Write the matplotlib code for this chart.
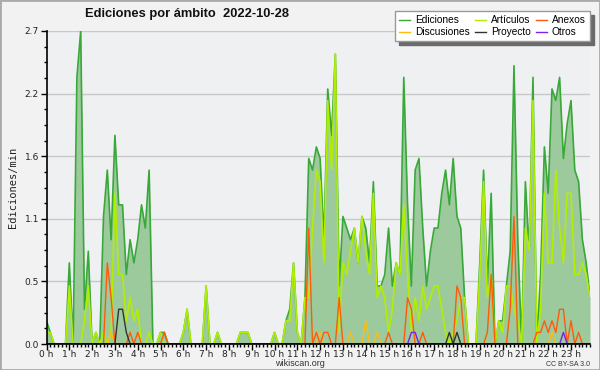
import numpy as np
import matplotlib
matplotlib.use("Agg")
import matplotlib.pyplot as plt
from matplotlib.ticker import MultipleLocator, AutoMinorLocator, FixedLocator
from matplotlib.patches import Rectangle

# one value every 10 minutes (edits/min), 144 values for the day
ediciones = [
    0.2, 0.1, 0, 0, 0, 0, 0.7, 0, 2.3, 2.7, 0.3, 0.8,
    0, 0.1, 0, 1.1, 1.5, 0.9, 1.8, 1.2, 1.2, 0.6, 0.9, 0.7,
    0.9, 1.2, 1.0, 1.5, 0, 0, 0.1, 0.1, 0, 0, 0, 0,
    0.1, 0.3, 0, 0, 0, 0, 0.5, 0, 0, 0.1, 0, 0,
    0, 0, 0, 0.1, 0.1, 0.1, 0, 0, 0, 0, 0, 0,
    0.1, 0, 0, 0.2, 0.3, 0.7, 0.1, 0, 0.4, 1.6, 1.5, 1.7,
    1.6, 0.9, 2.2, 1.8, 2.5, 0.5, 1.1, 1.0, 0.9, 1.0, 0.7, 1.1,
    1.0, 0.7, 1.4, 0.5, 0.5, 0.6, 1.0, 0.5, 0.7, 0.6, 2.3, 1.2,
    0.5, 1.5, 1.6, 1.0, 0.5, 0.8, 1.0, 1.0, 1.3, 1.5, 1.2, 1.6,
    1.1, 1.0, 0.4, 0, 0, 0, 0.7, 1.5, 0.5, 1.3, 0, 0.2,
    0.2, 0.5, 0.8, 2.4, 0.9, 0, 1.4, 0.8, 2.3, 0, 0.6, 1.7,
    1.3, 2.2, 2.1, 2.3, 1.6, 1.9, 2.1, 1.5, 1.4, 0.9, 0.7, 0.4,
]
articulos = [
    0.1, 0.1, 0, 0, 0, 0, 0.5, 0, 0, 0, 0.2, 0.5,
    0, 0.1, 0, 0.1, 0, 0.1, 1.3, 0.6, 0.6, 0.2, 0.4, 0.2,
    0.3, 0, 0, 0.1, 0, 0, 0.1, 0, 0, 0, 0, 0,
    0.1, 0.3, 0, 0, 0, 0, 0.5, 0, 0, 0.1, 0, 0,
    0, 0, 0, 0.1, 0.1, 0.1, 0, 0, 0, 0, 0, 0,
    0.1, 0, 0, 0.2, 0.2, 0.7, 0.1, 0, 0.4, 0.4, 1.0, 1.5,
    1.4, 0.7, 2.1, 1.5, 2.5, 0.1, 0.7, 0.6, 0.8, 1.0, 0.7, 1.1,
    0.8, 0.6, 1.3, 0.4, 0.5, 0.4, 0.1, 0.3, 0.7, 0.6, 1.2, 0.6,
    0.1, 0.4, 0.2, 0.5, 0.3, 0.4, 0.5, 0.5, 0.3, 0.1, 0, 0.1,
    0.2, 0.4, 0.4, 0, 0, 0, 0.6, 1.4, 0.4, 0.6, 0, 0.2,
    0.1, 0.5, 0.5, 0.3, 0.2, 0, 1.0, 0.8, 2.1, 0, 0.3, 1.3,
    0.7, 0.7, 1.5, 1.0, 0.7, 1.3, 1.3, 0.6, 0.6, 0.7, 0.6, 0.4,
]
anexos = [
    0, 0, 0, 0, 0, 0, 0, 0, 0, 0, 0, 0,
    0, 0, 0, 0, 0.7, 0.4, 0, 0, 0, 0, 0.1, 0,
    0.1, 0, 0, 0, 0, 0, 0, 0.1, 0, 0, 0, 0,
    0, 0, 0, 0, 0, 0, 0, 0, 0, 0, 0, 0,
    0, 0, 0, 0, 0, 0, 0, 0, 0, 0, 0, 0,
    0, 0, 0, 0, 0, 0, 0, 0, 0, 1.0, 0, 0.1,
    0, 0.1, 0.1, 0, 0, 0.4, 0, 0, 0, 0, 0, 0,
    0, 0, 0, 0, 0, 0, 0.1, 0, 0, 0, 0, 0.4,
    0.3, 0, 0, 0.1, 0, 0, 0, 0, 0, 0, 0, 0,
    0.5, 0.4, 0, 0, 0, 0, 0, 0, 0.1, 0.6, 0, 0,
    0, 0, 0.3, 1.1, 0, 0, 0, 0, 0, 0.1, 0.1, 0.2,
    0.1, 0.2, 0.1, 0.3, 0.3, 0, 0.2, 0, 0.1, 0, 0, 0,
]
discusiones = [
    0, 0, 0, 0, 0, 0, 0, 0, 0, 0, 0, 0,
    0, 0, 0, 0, 0, 0.1, 0, 0, 0, 0, 0, 0,
    0, 0, 0, 0, 0, 0, 0, 0, 0, 0, 0, 0,
    0, 0, 0, 0, 0, 0, 0, 0, 0, 0, 0, 0,
    0, 0, 0, 0, 0, 0, 0, 0, 0, 0, 0, 0,
    0, 0, 0, 0, 0, 0, 0, 0, 0, 0, 0, 0,
    0.1, 0, 0, 0, 0, 0, 0, 0, 0.1, 0, 0, 0,
    0.2, 0, 0, 0.1, 0, 0, 0, 0, 0, 0, 0, 0,
    0, 0, 0, 0, 0, 0, 0, 0, 0, 0, 0, 0,
    0, 0, 0, 0, 0, 0, 0, 0, 0, 0, 0, 0,
    0, 0, 0, 0, 0, 0, 0, 0, 0, 0, 0, 0,
    0, 0.1, 0, 0, 0, 0, 0, 0, 0, 0, 0, 0,
]
proyecto = [0] * 144
for i, v in [(19, 0.3), (20, 0.3), (21, 0.1), (106, 0.1), (108, 0.1)]:
    proyecto[i] = v
otros = [0] * 144
for i, v in [(96, 0.1), (97, 0.1), (136, 0.1)]:
    otros[i] = v

horas = [f"{h} h" for h in range(24)]
titulo = "Ediciones por ámbito  2022-10-28"

x = np.arange(len(ediciones))

fig = plt.figure(figsize=(6, 3.7), dpi=100, facecolor="#f2f2f2")
ax = fig.add_axes([46.5 / 600, 26 / 370, 543.5 / 600, 313 / 370])
ax.set_facecolor("#eef0f2")

ax.fill_between(x, ediciones, color="#9dca9d", lw=0, zorder=1)
l_ed, = ax.plot(x, ediciones, color="#38a838", lw=1.2, zorder=2)
l_ar, = ax.plot(x, articulos, color="#b2ee00", lw=1.2, zorder=3)
l_di, = ax.plot(x, discusiones, color="#ffbb11", lw=1.0, zorder=3)
l_an, = ax.plot(x, anexos, color="#ff5a0a", lw=1.0, zorder=4)
l_pr, = ax.plot(x, proyecto, color="#333333", lw=1.0, zorder=4)
l_ot, = ax.plot(x, otros, color="#7a22ee", lw=1.0, zorder=4)

ax.set_xlim(0, 143)
ax.set_ylim(0, 2.7)

yt = np.linspace(0, 2.7, 6)
ax.yaxis.set_major_locator(FixedLocator(yt))
ax.set_yticklabels([f"{v:.1f}" for v in yt])
ax.yaxis.set_minor_locator(AutoMinorLocator(4))
ax.xaxis.set_major_locator(FixedLocator(np.arange(0, 144, 6)))
ax.set_xticklabels(horas)
ax.xaxis.set_minor_locator(MultipleLocator(1))

ax.grid(axis="y", color="#c8c8c8", lw=1, zorder=0)
ax.set_axisbelow(True)
for s in ["top", "right"]:
    ax.spines[s].set_visible(False)
for s in ["left", "bottom"]:
    ax.spines[s].set_color("black")
    ax.spines[s].set_linewidth(1.2)
    ax.spines[s].set_zorder(5)

ax.tick_params(axis="both", which="major", direction="out", length=4,
               width=1, colors="black", labelcolor="#222222")
ax.tick_params(axis="x", which="major", pad=0)
ax.tick_params(axis="y", which="major", pad=1.5)
ax.tick_params(axis="both", which="minor", direction="out", length=2.5, width=1)
for lab in ax.get_xticklabels() + ax.get_yticklabels():
    lab.set_fontfamily("DejaVu Sans")
    lab.set_fontsize(6.5)

ax.set_ylabel("Ediciones/min", family="DejaVu Sans Mono", fontsize=7.5,
              color="#222222", labelpad=5)

fig.text(85 / 600, 1 - 14 / 370, titulo, family="Liberation Sans",
         fontsize=9.3, fontweight="bold", color="#111111", ha="left", va="center")
fig.text(0.5, 1 - 363 / 370, "wikiscan.org", family="Liberation Sans",
         fontsize=6.5, color="#333333", ha="center", va="center")
fig.text(590 / 600, 1 - 364 / 370, "CC BY-SA 3.0", family="Liberation Sans",
         fontsize=5, color="#333333", ha="right", va="center")

handles = [l_ed, l_di, l_ar, l_pr, l_an, l_ot]
labels = ["Ediciones", "Discusiones", "Artículos", "Proyecto", "Anexos", "Otros"]
leg = fig.legend(handles, labels, loc="upper right", ncol=3,
                 bbox_to_anchor=(0.983, 0.97), frameon=True, fancybox=False,
                 shadow={"ox": 3, "oy": -3, "color": "#6a6a6a", "alpha": 1},
                 prop={"family": "Liberation Sans", "size": 7.3},
                 handlelength=1.1, handletextpad=0.45, columnspacing=0.55,
                 labelspacing=0.2, borderpad=0.4, borderaxespad=0)
leg.get_frame().set_edgecolor("#999999")
leg.get_frame().set_facecolor("white")
leg.get_frame().set_linewidth(1)
for ln in leg.get_lines():
    ln.set_linewidth(1)

fig.patches.append(Rectangle((0, 0), 1, 1, transform=fig.transFigure,
                             fill=False, edgecolor="#aaaaaa", lw=2))

fig.savefig("out.png", dpi=100, facecolor=fig.get_facecolor())
